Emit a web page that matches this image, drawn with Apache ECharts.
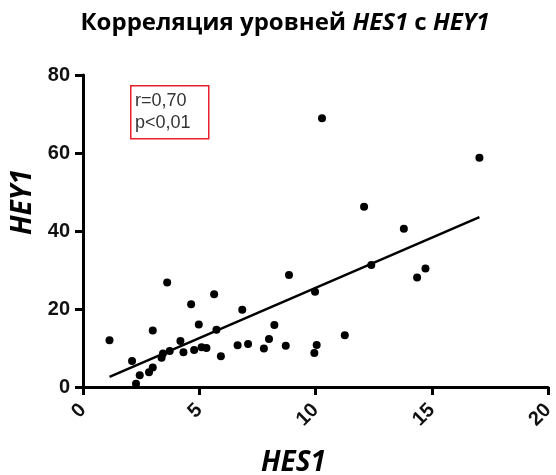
<!DOCTYPE html>
<html>
<head>
<meta charset="utf-8">
<script src="https://cdn.jsdelivr.net/npm/echarts@6/dist/echarts.min.js"></script>
<style>
  html, body { margin: 0; padding: 0; background: #fff; }
  #chart { width: 556px; height: 475px; }
</style>
</head>
<body>
<div id="chart"></div>
<script>
// HES1 expression level per sample
const hes1 = [
  1.14, 2.11, 2.28, 2.44, 2.84, 3.0, 3.0, 3.38, 3.44, 3.62,
  3.73, 4.19, 4.32, 4.65, 4.78, 4.98, 5.1, 5.31, 5.64, 5.74,
  5.93, 6.65, 6.85, 7.1, 7.78, 8.0, 8.23, 8.72, 8.86, 9.95,
  10.05, 9.98, 10.28, 11.26, 12.09, 12.4, 13.8, 14.37, 14.73, 17.05
];
// HEY1 expression level for the same samples
const hey1 = [
  12.0, 6.65, 0.85, 3.0, 3.8, 5.0, 14.5, 7.5, 8.6, 26.8,
  9.2, 11.8, 8.9, 21.2, 9.5, 16.0, 10.2, 10.0, 23.8, 14.7,
  7.9, 10.7, 19.8, 11.0, 9.9, 12.3, 15.9, 10.6, 28.7, 8.7,
  10.8, 24.4, 68.9, 13.3, 46.2, 31.3, 40.6, 28.1, 30.4, 58.8
];
// Linear regression line: HEY1 = slope * HES1 + intercept
const fitSlope = [2.575];
const fitIntercept = [-0.36];
const statsLines = ['r=0,70', 'p<0,01'];

const xMin = Math.min(...hes1), xMax = Math.max(...hes1);
const fitLine = [xMin, xMax].map(x => [x, fitSlope[0] * x + fitIntercept[0]]);
const points = hes1.map((x, i) => [x, hey1[i]]);

const axisFont = { fontFamily: 'Liberation Sans, Arial, sans-serif', fontWeight: 'bold', fontSize: 20, color: '#111' };
const nameFont = { fontFamily: 'Open Sans, sans-serif', fontWeight: 'bold', fontStyle: 'italic', fontSize: 28, color: '#000' };

const chart = echarts.init(document.getElementById('chart'), null, { renderer: 'canvas' });
chart.setOption({
  animation: false,
  backgroundColor: '#fff',
  title: {
    text: '{b|Корреляция уровней }{i|HES1}{b| с }{i|HEY1}',
    left: 280, top: 6, textAlign: 'center',
    textStyle: {
      rich: {
        b: { fontFamily: 'Open Sans, sans-serif', fontWeight: 'bold', fontSize: 24, color: '#000' },
        i: { fontFamily: 'Open Sans, sans-serif', fontWeight: 'bold', fontStyle: 'italic', fontSize: 24, color: '#000' }
      }
    }
  },
  grid: { left: 83, right: 8, top: 75, bottom: 88, containLabel: false, outerBoundsMode: 'none' },
  xAxis: {
    type: 'value', min: 0, max: 20, interval: 5,
    name: 'HES1', nameLocation: 'middle', nameGap: 62,
    nameTextStyle: Object.assign({ padding: [0, 44, 0, 0] }, nameFont),
    axisLine: { lineStyle: { color: '#000', width: 3 } },
    axisTick: { show: true, length: 8, lineStyle: { color: '#000', width: 3 } },
    axisLabel: Object.assign({ rotate: 45, margin: 20, padding: [10, 0, 0, 0] }, axisFont),
    splitLine: { show: false }
  },
  yAxis: {
    type: 'value', min: 0, max: 80, interval: 20,
    name: 'HEY1', nameLocation: 'middle', nameGap: 38,
    nameTextStyle: Object.assign({ padding: [0, 0, 0, 58] }, nameFont),
    axisLine: { show: true, lineStyle: { color: '#000', width: 3 } },
    axisTick: { show: true, length: 8, lineStyle: { color: '#000', width: 3 } },
    axisLabel: Object.assign({ margin: 13 }, axisFont),
    splitLine: { show: false }
  },
  series: [
    {
      type: 'scatter', data: points, symbol: 'circle', symbolSize: 8,
      itemStyle: { color: '#000', opacity: 1 }, z: 3
    },
    {
      type: 'line', data: fitLine, symbol: 'none',
      lineStyle: { color: '#000', width: 2.5 }, z: 2
    }
  ],
  graphic: [
    {
      type: 'rect', left: 130, top: 85,
      shape: { width: 78, height: 53 },
      style: { fill: '#fff', stroke: '#e8202a', lineWidth: 1.5 }
    },
    {
      type: 'text', left: 135, top: 90,
      style: {
        text: statsLines.join('\n'),
        fontFamily: 'Liberation Sans, Arial, sans-serif', fontSize: 18, lineHeight: 22,
        fill: '#333'
      }
    }
  ]
});
</script>
</body>
</html>
